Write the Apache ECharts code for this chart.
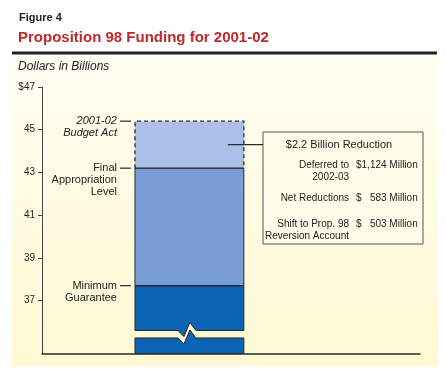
<!DOCTYPE html>
<html><head><meta charset="utf-8">
<script src="https://cdn.jsdelivr.net/npm/echarts@6/dist/echarts.min.js"></script>
<style>html,body{margin:0;padding:0;background:#fff}#c{width:446px;height:372px}</style>
</head><body><div id="c"></div>
<script>
// ---- data ----
const yTickValues = [37, 39, 41, 43, 45, 47];
const levelNames = ['Minimum\nGuarantee', 'Final\nAppropriation\nLevel', '2001-02\nBudget Act'];
const levelValues = [37.7, 43.2, 45.4];
const axisRange = [34.5, 47];
const breakRange = [35.25, 35.6];
const reductionTitle = '$2.2 Billion Reduction';
const reductionLabels = ['Deferred to\n2002-03', 'Net Reductions', 'Shift to Prop. 98\nReversion Account'];
const reductionAmounts = [1124, 583, 503];

// ---- style / layout ----
const FONT = '"Liberation Sans", Arial, Helvetica, sans-serif';
const BAR_SPAN = [24.6, 53.4];
const C_LIGHT = '#aac0e8', C_MID = '#7a9fd8', C_DARK = '#0a63b3', C_EDGE = '#2a2a2a';
const BOX = {x: 263, y: 132, w: 160, h: 112};
const ROW_Y = [165, 198, 224];
const BOX_FONT = '10px ' + FONT;

function renderBar(params, api) {
  const vMin = api.value(0), vFinal = api.value(1), vBudget = api.value(2);
  const P = (x, v) => api.coord([x, v]);
  const x0 = P(BAR_SPAN[0], vMin)[0], x1 = P(BAR_SPAN[1], vMin)[0];
  const y = v => P(0, v)[1];
  const yBase = y(axisRange[0]) - 0.5, yBl = y(breakRange[0]), yBh = y(breakRange[1]);
  const yM = y(vMin), yF = y(vFinal), yB = y(vBudget);
  const cx = (x0 + x1) / 2;
  const zz = [[cx - 11.5, 0], [cx - 5.5, 6], [cx + 0.5, -8], [cx + 6.5, 0]].reverse();
  const upper = [[x0, yM], [x1, yM], [x1, yBh]].concat(zz.map(p => [p[0], yBh + p[1]])).concat([[x0, yBh]]);
  const lower = [[x0, yBase], [x1, yBase], [x1, yBl]].concat(zz.map(p => [p[0], yBl + p[1]])).concat([[x0, yBl]]);
  const children = [];
  const edge = {stroke: C_EDGE, lineWidth: 1};
  children.push({type: 'polygon', shape: {points: lower}, style: Object.assign({fill: C_DARK}, edge)});
  children.push({type: 'polygon', shape: {points: upper}, style: Object.assign({fill: C_DARK}, edge)});
  children.push({type: 'rect', shape: {x: x0, y: yF, width: x1 - x0, height: yM - yF}, style: Object.assign({fill: C_MID}, edge)});
  children.push({type: 'rect', shape: {x: x0, y: yB, width: x1 - x0, height: yF - yB}, style: {fill: C_LIGHT}});
  children.push({type: 'polyline', shape: {points: [[x0, yF], [x0, yB], [x1, yB], [x1, yF]]},
    style: {stroke: C_EDGE, lineWidth: 1.3, lineDash: [4, 3], fill: null}});
  children.push({type: 'line', shape: {x1: x0, y1: yF, x2: x1, y2: yF}, style: {stroke: C_EDGE, lineWidth: 1.2}});
  children.push({type: 'line', shape: {x1: x0, y1: yM, x2: x1, y2: yM}, style: {stroke: C_EDGE, lineWidth: 1.2}});
  const vals = [vMin, vFinal, vBudget];
  vals.forEach((v, i) => {
    const yy = y(v);
    children.push({type: 'line', shape: {x1: x0 - 15, y1: yy, x2: x0 - 4, y2: yy}, style: {stroke: C_EDGE, lineWidth: 1.2}});
    children.push({type: 'text', style: {text: levelNames[i], x: x0 - 18, y: yy - 6, align: 'right', verticalAlign: 'top',
      lineHeight: 12, fill: '#222', font: (i === 2 ? 'italic ' : '') + '11px ' + FONT}});
  });
  const yLead = y((vFinal + vBudget) / 2);
  children.push({type: 'line', shape: {x1: x1 - 16, y1: yLead, x2: BOX.x, y2: yLead}, style: {stroke: C_EDGE, lineWidth: 1.2}});
  return {type: 'group', children};
}

// measure widths so the "$" column and the amounts column line up
const mctx = document.createElement('canvas').getContext('2d');
mctx.font = BOX_FONT;
const amountStrings = reductionAmounts.map(a => a.toLocaleString('en-US') + ' Million');
const firstWidth = mctx.measureText('$' + amountStrings[0]).width;
const DOLLAR_X = 93;
const AMOUNT_RIGHT = DOLLAR_X + firstWidth;

const boxChildren = [
  {type: 'rect', shape: {x: 0, y: 0, width: BOX.w, height: BOX.h}, style: {fill: '#fffdea', stroke: '#555', lineWidth: 1}},
  {type: 'text', style: {text: reductionTitle, x: BOX.w / 2 - 4, y: 13, align: 'center', verticalAlign: 'middle', fill: '#222', font: '11px ' + FONT}}
];
reductionLabels.forEach((lab, i) => {
  const ry = ROW_Y[i] - BOX.y;
  boxChildren.push({type: 'text', style: {text: lab, x: 86, y: ry - 6, align: 'right', verticalAlign: 'top', lineHeight: 12, fill: '#222', font: BOX_FONT}});
  boxChildren.push({type: 'text', style: {text: '$', x: DOLLAR_X, y: ry - 6, align: 'left', verticalAlign: 'top', lineHeight: 12, fill: '#222', font: BOX_FONT}});
  boxChildren.push({type: 'text', style: {text: amountStrings[i], x: AMOUNT_RIGHT, y: ry - 6, align: 'right', verticalAlign: 'top', lineHeight: 12, fill: '#222', font: BOX_FONT}});
});

const chart = echarts.init(document.getElementById('c'), null, {renderer: 'canvas'});
chart.setOption({
  animation: false,
  backgroundColor: '#ffffff',
  grid: {left: 42, right: 26, top: 87, bottom: 18},
  xAxis: {type: 'value', min: 0, max: 100,
    axisLine: {show: true, lineStyle: {color: '#2a2a2a', width: 1.5}},
    axisTick: {show: false}, axisLabel: {show: false}, splitLine: {show: false}},
  yAxis: {type: 'value', min: axisRange[0], max: axisRange[1],
    axisLine: {show: true, lineStyle: {color: '#444', width: 1}},
    axisTick: {show: true, length: 4, customValues: yTickValues, lineStyle: {color: '#444'}},
    axisLabel: {customValues: yTickValues, margin: 7, color: '#222', fontSize: 10, fontFamily: FONT,
      formatter: v => (v === yTickValues[yTickValues.length - 1] ? '$' + v : String(v))},
    splitLine: {show: false}},
  graphic: [
    {type: 'rect', z: -10, shape: {x: 12, y: 55, width: 426, height: 311},
      style: {fill: new echarts.graphic.LinearGradient(0, 0, 0, 1, [{offset: 0, color: '#fffef2'}, {offset: 1, color: '#fff8d2'}])}},
    {type: 'rect', shape: {x: 12, y: 51.5, width: 425, height: 3}, style: {fill: '#222'}},
    {type: 'text', style: {text: 'Figure 4', x: 19, y: 17.5, verticalAlign: 'middle', fill: '#222', font: 'bold 11px ' + FONT}},
    {type: 'text', style: {text: 'Proposition 98 Funding for 2001-02', x: 18, y: 38, verticalAlign: 'middle', fill: '#bd2a2e', font: 'bold 15px ' + FONT}},
    {type: 'text', style: {text: 'Dollars in Billions', x: 18, y: 67, verticalAlign: 'middle', fill: '#222', font: 'italic 12px ' + FONT}},
    {type: 'group', x: BOX.x, y: BOX.y, children: boxChildren}
  ],
  series: [{
    type: 'custom',
    renderItem: renderBar,
    encode: {y: [0, 1, 2]},
    data: [levelValues],
    z: 3
  }]
});
</script>
</body></html>
